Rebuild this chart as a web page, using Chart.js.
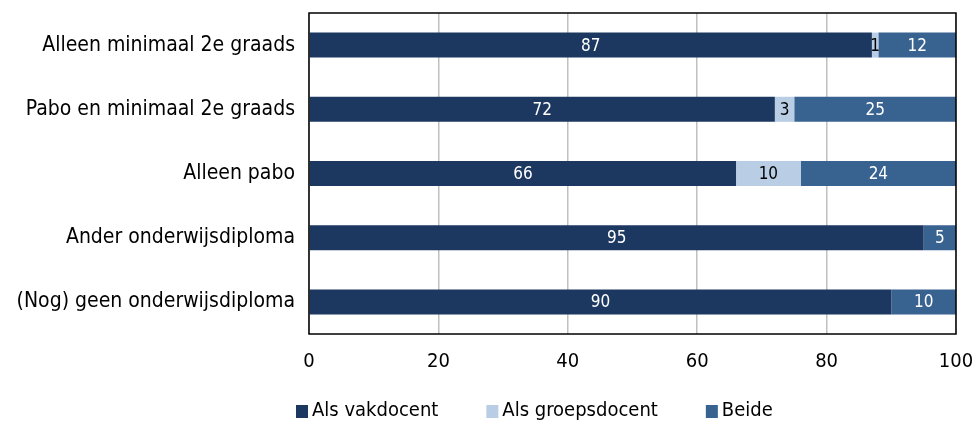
<!DOCTYPE html>
<html>
<head>
<meta charset="utf-8">
<script src="https://cdn.jsdelivr.net/npm/chart.js@4"></script>
<style>
  html, body { margin: 0; padding: 0; background: #fff; }
  #wrap { width: 978px; height: 427px; }
</style>
</head>
<body>
<div id="wrap"><canvas id="chart"></canvas></div>
<script>
const categories = [
  "Alleen minimaal 2e graads",
  "Pabo en minimaal 2e graads",
  "Alleen pabo",
  "Ander onderwijsdiploma",
  "(Nog) geen onderwijsdiploma"
];
const vakdocent = [87, 72, 66, 95, 90];
const groepsdocent = [1, 3, 10, 0, 0];
const beide = [12, 25, 24, 5, 10];
const xTicks = [0, 20, 40, 60, 80, 100];

const FONT = "'DejaVu Sans Condensed', 'DejaVu Sans', sans-serif";

// value labels inside the segments
const segmentLabels = {
  id: "segmentLabels",
  afterDatasetsDraw(chart) {
    const ctx = chart.ctx;
    ctx.save();
    ctx.font = "17px " + FONT;
    ctx.textAlign = "center";
    ctx.textBaseline = "middle";
    chart.data.datasets.forEach((ds, i) => {
      const meta = chart.getDatasetMeta(i);
      meta.data.forEach((bar, j) => {
        const v = ds.data[j];
        if (!v) return;
        const cx = (bar.x + bar.base) / 2;
        ctx.fillStyle = ds.labelColor;
        ctx.fillText(String(v), cx, bar.y + 1);
      });
    });
    ctx.restore();
  }
};

// black frame around the plot area + legend underneath
const plotFrame = {
  id: "plotFrame",
  afterDraw(chart) {
    const a = chart.chartArea;
    const ctx = chart.ctx;
    ctx.save();
    ctx.strokeStyle = "#000";
    ctx.lineWidth = 1.5;
    ctx.strokeRect(a.left, a.top, a.right - a.left, a.bottom - a.top);

    ctx.font = "20px " + FONT;
    ctx.textBaseline = "middle";
    ctx.textAlign = "left";
    let x = 296;
    const y = 411;
    chart.data.datasets.forEach((ds) => {
      ctx.fillStyle = ds.backgroundColor;
      ctx.fillRect(x, y - 6, 12, 13);
      x += 16;
      ctx.fillStyle = "#000";
      ctx.fillText(ds.label, x, y);
      x += ctx.measureText(ds.label).width + 48;
    });
    ctx.restore();
  }
};

new Chart(document.getElementById("chart"), {
  type: "bar",
  data: {
    labels: categories,
    datasets: [
      { label: "Als vakdocent", data: vakdocent, backgroundColor: "#1c3860", labelColor: "#fff" },
      { label: "Als groepsdocent", data: groepsdocent, backgroundColor: "#b9cde5", labelColor: "#000" },
      { label: "Beide", data: beide, backgroundColor: "#386290", labelColor: "#fff" }
    ]
  },
  options: {
    indexAxis: "y",
    responsive: true,
    maintainAspectRatio: false,
    animation: false,
    layout: { padding: { left: 0, right: 22, top: 13, bottom: 43 } },
    datasets: { bar: { barPercentage: 0.39, categoryPercentage: 1 } },
    scales: {
      x: {
        stacked: true,
        min: 0,
        max: 100,
        afterBuildTicks: (scale) => { scale.ticks = xTicks.map((v) => ({ value: v })); },
        ticks: { color: "#000", font: { family: FONT, size: 20 }, padding: 16 },
        grid: { color: "#c0c0c0", lineWidth: 1.5, drawTicks: false },
        border: { display: false },
        afterFit: (scale) => {
          scale.height = 50;
          scale.paddingLeft = 0;
          scale.paddingRight = 0;
        }
      },
      y: {
        stacked: true,
        ticks: { color: "#000", font: { family: FONT, size: 21 }, padding: 14 },
        grid: { display: false, drawTicks: false },
        border: { display: false },
        afterFit: (scale) => {
          scale.width = 309;
          scale.paddingTop = 0;
          scale.paddingBottom = 0;
        }
      }
    },
    plugins: {
      legend: { display: false },
      tooltip: { enabled: false }
    }
  },
  plugins: [segmentLabels, plotFrame]
});
</script>
</body>
</html>
